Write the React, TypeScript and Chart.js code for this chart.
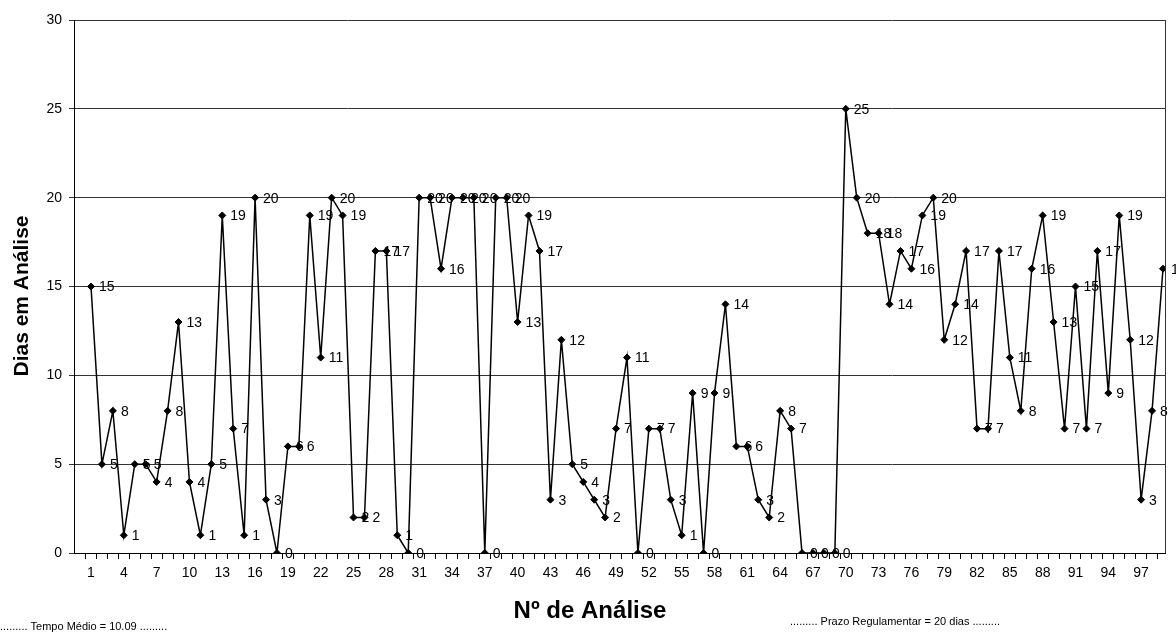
import React, { useEffect, useRef } from 'react';
import { Chart, registerables } from 'chart.js';

Chart.register(...registerables);

// Categories: Nº de Análise 1..99
const analysisNumbers: number[] = Array.from({ length: 99 }, (_, i) => i + 1);

// Dias em Análise for each analysis
const daysInAnalysis: number[] = [
  15, 5, 8, 1, 5, 5, 4, 8, 13, 4,
  1, 5, 19, 7, 1, 20, 3, 0, 6, 6,
  19, 11, 20, 19, 2, 2, 17, 17, 1, 0,
  20, 20, 16, 20, 20, 20, 0, 20, 20, 13,
  19, 17, 3, 12, 5, 4, 3, 2, 7, 11,
  0, 7, 7, 3, 1, 9, 0, 9, 14, 6,
  6, 3, 2, 8, 7, 0, 0, 0, 0, 25,
  20, 18, 18, 14, 17, 16, 19, 20, 12, 14,
  17, 7, 7, 17, 11, 8, 16, 19, 13, 7,
  15, 7, 17, 9, 19, 12, 3, 8, 16,
];

const xTickLabels: number[] = [1, 4, 7, 10, 13, 16, 19, 22, 25, 28, 31, 34, 37, 40, 43, 46, 49, 52, 55, 58, 61, 64, 67, 70, 73, 76, 79, 82, 85, 88, 91, 94, 97];
const yTickValues: number[] = [0, 5, 10, 15, 20, 25, 30];

const yTitle = 'Dias em Análise';
const xTitle = 'Nº de Análise';
const meanText = '......... Tempo Médio = 10.09 .........';
const limitText = '......... Prazo Regulamentar = 20 dias .........';

const FONT = 'Arial, "Liberation Sans", sans-serif';

export default function App() {
  const ref = useRef<HTMLCanvasElement | null>(null);

  useEffect(() => {
    const canvas = ref.current;
    if (!canvas) return;

    const decorPlugin = {
      id: 'decor',
      afterDatasetsDraw(chart: any) {
        const ctx = chart.ctx;
        const meta = chart.getDatasetMeta(0);
        ctx.save();
        ctx.fillStyle = '#000';
        ctx.font = `14px ${FONT}`;
        ctx.textAlign = 'left';
        ctx.textBaseline = 'middle';
        meta.data.forEach((pt: any, i: number) => {
          ctx.fillText(String(daysInAnalysis[i]), pt.x + 8, pt.y + 1);
        });
        ctx.restore();
      },
      afterDraw(chart: any) {
        const ctx = chart.ctx;
        const a = chart.chartArea;
        ctx.save();
        // right border of plot area
        ctx.strokeStyle = '#333';
        ctx.lineWidth = 1;
        ctx.beginPath();
        ctx.moveTo(Math.round(a.right) + 0.5, a.top);
        ctx.lineTo(Math.round(a.right) + 0.5, a.bottom);
        ctx.stroke();

        ctx.fillStyle = '#000';
        ctx.textAlign = 'center';
        ctx.textBaseline = 'middle';
        // Y title
        ctx.font = `bold 21px ${FONT}`;
        ctx.save();
        ctx.translate(22, 296);
        ctx.rotate(-Math.PI / 2);
        ctx.fillText(yTitle, 0, 0);
        ctx.restore();
        // X title
        ctx.font = `bold 24px ${FONT}`;
        ctx.fillText(xTitle, 590, 611);
        // footer texts
        ctx.font = `11px ${FONT}`;
        ctx.textAlign = 'left';
        ctx.fillText(meanText, 0, 627);
        ctx.fillText(limitText, 790, 622);
        ctx.restore();
      },
    };

    const chart = new Chart(canvas, {
      type: 'line',
      data: {
        labels: analysisNumbers,
        datasets: [
          {
            data: analysisNumbers.map((n, i) => ({ x: n, y: daysInAnalysis[i] })),
            borderColor: '#000',
            borderWidth: 1.5,
            backgroundColor: '#000',
            pointStyle: 'rectRot',
            pointRadius: 3.5,
            pointBackgroundColor: '#000',
            pointBorderColor: '#000',
            pointBorderWidth: 1,
            tension: 0,
          },
        ],
      },
      options: {
        responsive: false,
        animation: false,
        devicePixelRatio: 1,
        layout: { padding: { top: 20, right: 11, left: 0, bottom: 0 } },
        plugins: { legend: { display: false }, tooltip: { enabled: false } },
        scales: {
          x: {
            type: 'linear',
            min: 1 - 17 / 10.94,
            max: 99 + 2 / 10.94,
            afterBuildTicks: (scale: any) => {
              scale.ticks = analysisNumbers.map((v) => ({ value: v }));
            },
            afterFit: (scale: any) => {
              scale.height = 83;
            },
            ticks: {
              autoSkip: false,
              maxRotation: 0,
              minRotation: 0,
              padding: 6,
              color: '#000',
              font: { family: FONT, size: 14 },
              callback: (v: any) => (xTickLabels.includes(Number(v)) ? String(v) : ''),
            },
            grid: {
              display: true,
              drawOnChartArea: false,
              drawTicks: true,
              tickLength: 6,
              offset: true,
              color: '#000',
            },
            border: { display: true, color: '#000', width: 1 },
          },
          y: {
            min: 0,
            max: 30,
            afterBuildTicks: (scale: any) => {
              scale.ticks = yTickValues.map((v) => ({ value: v }));
            },
            afterFit: (scale: any) => {
              scale.width = 74;
            },
            ticks: {
              padding: 7,
              color: '#000',
              font: { family: FONT, size: 14 },
            },
            grid: {
              color: '#333',
              lineWidth: 1,
              tickLength: 5,
              drawTicks: true,
            },
            border: { display: true, color: '#000', width: 1 },
          },
        },
      },
      plugins: [decorPlugin],
    } as any);

    return () => chart.destroy();
  }, []);

  return (
    <div style={{ position: 'absolute', left: 0, top: 0, width: 1176, height: 636, background: '#fff' }}>
      <canvas ref={ref} width={1176} height={636} style={{ width: 1176, height: 636, display: 'block' }} />
    </div>
  );
}
